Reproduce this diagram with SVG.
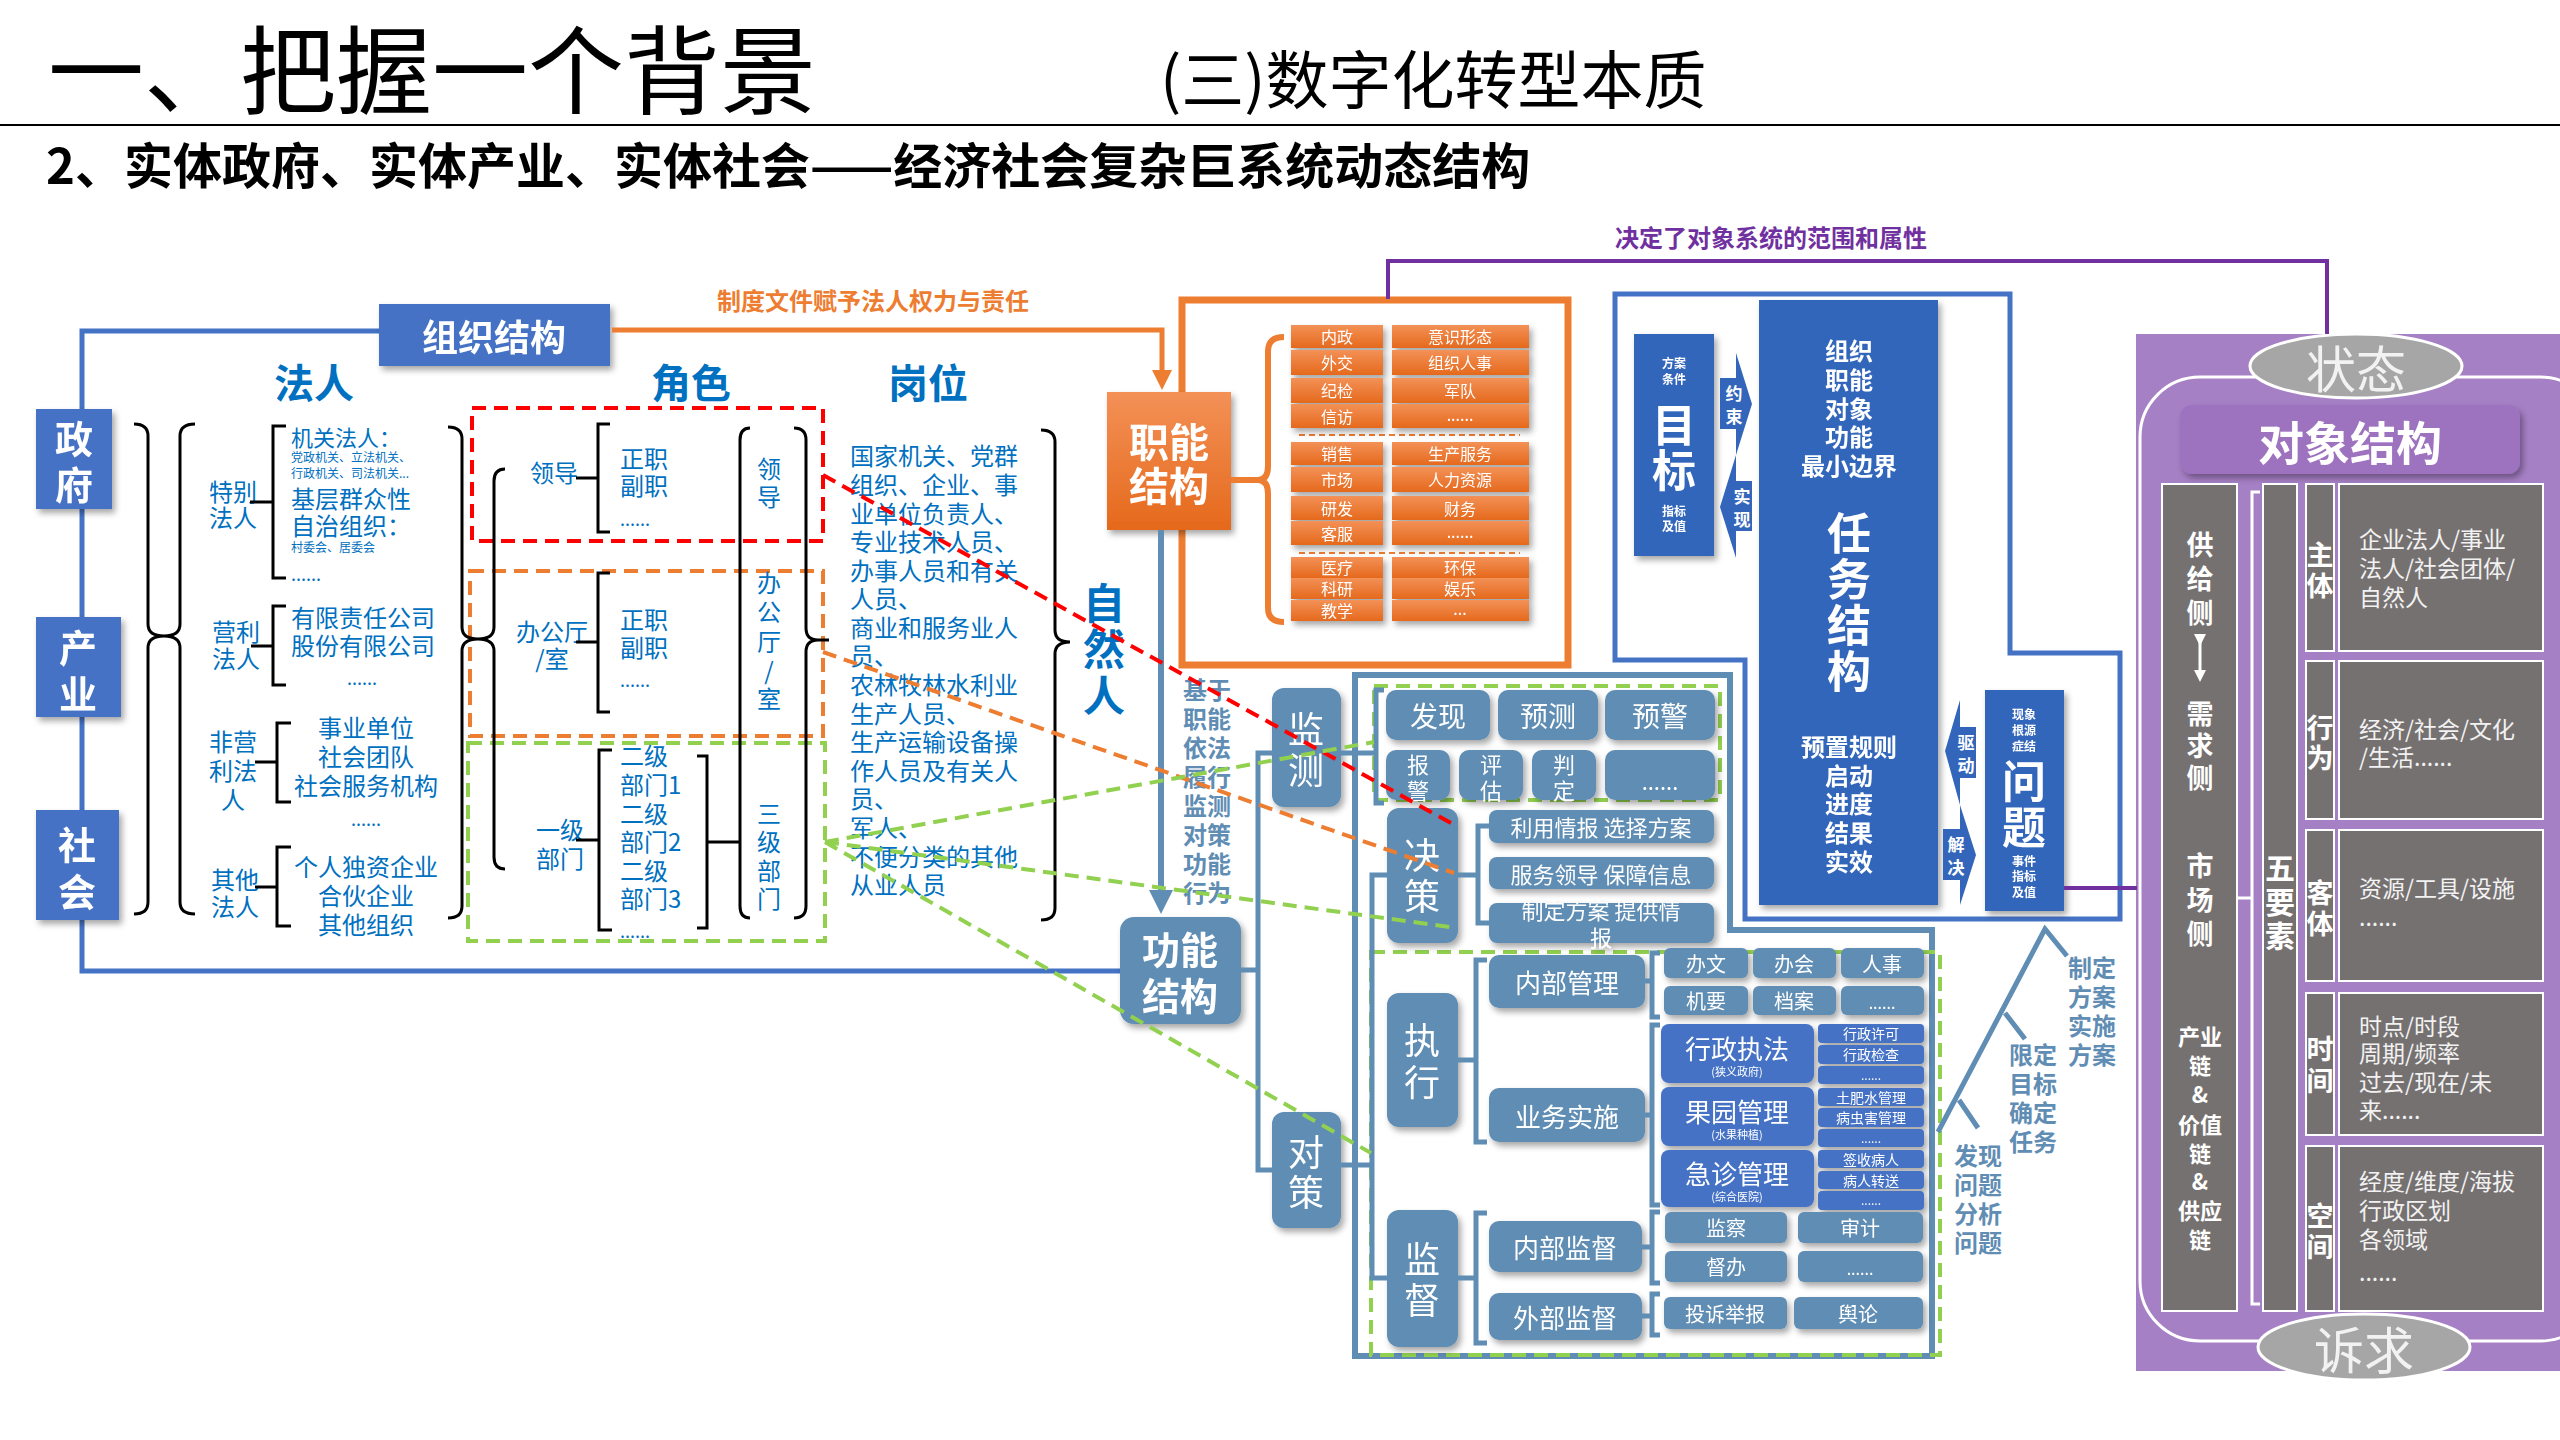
<svg xmlns="http://www.w3.org/2000/svg" width="2560" height="1440" viewBox="0 0 2560 1440">
<defs>
<style>
text{font-family:"Noto Sans CJK SC","Noto Sans",sans-serif}
.c{text-anchor:middle;dominant-baseline:central}
.l{dominant-baseline:central}
.b{font-weight:bold}
.bl{fill:#0070c0}
.w{fill:#fff}
.sbt{fill:#5f8db4}
.sbf{fill:#5f8db4}
.bx{fill:#4472c4}
.tk{fill:#3366bb}
.og{fill:url(#og)}
.gy{fill:#767171;stroke:#fff;stroke-width:2}
.br{fill:none;stroke:#000;stroke-width:3}
.sl{fill:none;stroke:#5f8db4;stroke-width:5}
.f24{font-size:24px}
.f22{font-size:22px}
.f16{font-size:16px}
.f12{font-size:12px}
.dr{fill:none;stroke:#ff0000;stroke-width:4;stroke-dasharray:14 8}
.do{fill:none;stroke:#ed7d31;stroke-width:4;stroke-dasharray:14 8}
.dg{fill:none;stroke:#92d050;stroke-width:4;stroke-dasharray:14 8}
</style>
<linearGradient id="og" x1="0" y1="0" x2="0" y2="1"><stop offset="0" stop-color="#f39157"/><stop offset="1" stop-color="#e5691c"/></linearGradient>
<filter id="sh" x="-20%" y="-20%" width="140%" height="140%"><feDropShadow dx="3" dy="4" stdDeviation="3" flood-color="#000" flood-opacity="0.35"/></filter>
<marker id="ao" markerWidth="4" markerHeight="4" refX="2" refY="2" orient="auto" markerUnits="strokeWidth"><path d="M0,0 L4,2 L0,4 Z" fill="#ed7d31"/></marker>
<marker id="as" markerWidth="4" markerHeight="4" refX="2" refY="2" orient="auto" markerUnits="strokeWidth"><path d="M0,0 L4,2 L0,4 Z" fill="#5f8db4"/></marker>
<marker id="aw" markerWidth="4" markerHeight="4" refX="2" refY="2" orient="auto" markerUnits="strokeWidth"><path d="M0,0 L4,2 L0,4 Z" fill="#fff"/></marker>
</defs>
<rect width="2560" height="1440" fill="#fff"/>

<!-- titles -->
<g id="titles">
<text x="48" y="106" font-size="96">一、把握一个背景</text>
<text x="1160" y="103" font-size="63">(三)数字化转型本质</text>
<line x1="0" y1="125" x2="2560" y2="125" stroke="#000" stroke-width="2"/>
<text x="46" y="184" font-size="49" class="b">2、实体政府、实体产业、实体社会——经济社会复杂巨系统动态结构</text>
<text x="1771" y="236" class="c b f24" fill="#7030a0">决定了对象系统的范围和属性</text>
<text x="873" y="299" class="c b f24" fill="#ed7d31">制度文件赋予法人权力与责任</text>
</g>

<!-- background frames -->
<g id="frames">
<path d="M379,331 H82 V971 H1120" fill="none" stroke="#4472c4" stroke-width="5"/>
<rect x="1182" y="300" width="386" height="365" fill="#fff" stroke="#ed7d31" stroke-width="7"/>
<path d="M1615,294 H2010 V653 H2120 V919 H1745 V660 H1615 Z" fill="none" stroke="#4472c4" stroke-width="5"/>
<path d="M1355,675 H1730 V930 H1932 V1356 H1355 Z" fill="none" stroke="#5f8db4" stroke-width="6"/>
<rect x="2136" y="334" width="430" height="1037" fill="#a680c5"/>
<rect x="2140" y="377" width="460" height="964" rx="60" fill="none" stroke="#fff" stroke-width="3"/>
<line x1="1299" y1="435" x2="1520" y2="435" stroke="#ed7d31" stroke-width="2" stroke-dasharray="6 4"/>
<line x1="1299" y1="553" x2="1520" y2="553" stroke="#ed7d31" stroke-width="2" stroke-dasharray="6 4"/>
<rect x="472" y="408" width="351" height="133" class="dr"/>
<rect x="470" y="571" width="353" height="165" class="do"/>
<rect x="468" y="743" width="357" height="198" class="dg"/>
<rect x="1374" y="686" width="346" height="114" class="dg"/>
<rect x="1371" y="952" width="569" height="403" class="dg"/>
</g>

<!-- left: 政府 产业 社会 -->
<g id="n-zhengfu" filter="url(#sh)"><rect x="36" y="409" width="76" height="100" class="bx"/><text x="74" y="436" class="c b w" font-size="38">政</text><text x="74" y="482" class="c b w" font-size="38">府</text></g>
<g id="n-chanye" filter="url(#sh)"><rect x="36" y="617" width="85" height="100" class="bx"/><text x="78" y="645" class="c b w" font-size="38">产</text><text x="78" y="691" class="c b w" font-size="38">业</text></g>
<g id="n-shehui" filter="url(#sh)"><rect x="36" y="810" width="83" height="110" class="bx"/><text x="77" y="842" class="c b w" font-size="38">社</text><text x="77" y="889" class="c b w" font-size="38">会</text></g>
<g id="n-zuzhi" filter="url(#sh)"><rect x="379" y="304" width="231" height="62" class="bx"/><text x="494" y="335" class="c b w" font-size="36">组织结构</text></g>

<!-- 法人 column -->
<g id="n-faren">
<text x="314" y="381" class="c b bl" font-size="40">法人</text>
<text x="233" y="490" class="c bl f24">特别</text><text x="233" y="516" class="c bl f24">法人</text>
<text x="291" y="436" class="l bl f22">机关法人：</text>
<text x="291" y="456" class="l bl f12">党政机关、立法机关、</text>
<text x="291" y="472" class="l bl f12">行政机关、司法机关...</text>
<text x="291" y="497" class="l bl f24">基层群众性</text>
<text x="291" y="524" class="l bl f24">自治组织：</text>
<text x="291" y="546" class="l bl f12">村委会、居委会</text>
<text x="291" y="573" class="l bl" font-size="18">......</text>
<text x="236" y="630" class="c bl f24">营利</text><text x="236" y="657" class="c bl f24">法人</text>
<text x="291" y="616" class="l bl f24">有限责任公司</text>
<text x="291" y="644" class="l bl f24">股份有限公司</text>
<text x="362" y="677" class="c bl" font-size="18">......</text>
<text x="233" y="740" class="c bl f24">非营</text><text x="233" y="769" class="c bl f24">利法</text><text x="233" y="798" class="c bl f24">人</text>
<text x="366" y="726" class="c bl f24">事业单位</text>
<text x="366" y="755" class="c bl f24">社会团队</text>
<text x="366" y="784" class="c bl f24">社会服务机构</text>
<text x="366" y="818" class="c bl" font-size="18">......</text>
<text x="235" y="878" class="c bl f24">其他</text><text x="235" y="905" class="c bl f24">法人</text>
<text x="366" y="865" class="c bl f24">个人独资企业</text>
<text x="366" y="894" class="c bl f24">合伙企业</text>
<text x="366" y="923" class="c bl f24">其他组织</text>
</g>

<!-- 角色 column -->
<g id="n-jiaose">
<text x="691" y="381" class="c b bl" font-size="40">角色</text>
<text x="554" y="471" class="c bl f24">领导</text>
<text x="620" y="457" class="l bl f24">正职</text><text x="620" y="484" class="l bl f24">副职</text><text x="620" y="518" class="l bl" font-size="18">......</text>
<text x="552" y="630" class="c bl f24">办公厅</text><text x="552" y="657" class="c bl f24">/室</text>
<text x="620" y="618" class="l bl f24">正职</text><text x="620" y="646" class="l bl f24">副职</text><text x="620" y="679" class="l bl" font-size="18">......</text>
<text x="560" y="828" class="c bl f24">一级</text><text x="560" y="857" class="c bl f24">部门</text>
<text x="620" y="754" class="l bl f24">二级</text><text x="620" y="783" class="l bl f24">部门1</text><text x="620" y="812" class="l bl f24">二级</text><text x="620" y="840" class="l bl f24">部门2</text><text x="620" y="869" class="l bl f24">二级</text><text x="620" y="897" class="l bl f24">部门3</text><text x="620" y="930" class="l bl" font-size="18">......</text>
<text x="769" y="467" class="c bl f24">领</text><text x="769" y="495" class="c bl f24">导</text>
<text x="769" y="581" class="c bl f24">办</text><text x="769" y="610" class="c bl f24">公</text><text x="769" y="640" class="c bl f24">厅</text><text x="769" y="669" class="c bl f24">/</text><text x="769" y="697" class="c bl f24">室</text>
<text x="769" y="812" class="c bl f24">三</text><text x="769" y="840" class="c bl f24">级</text><text x="769" y="869" class="c bl f24">部</text><text x="769" y="897" class="c bl f24">门</text>
</g>

<!-- 岗位 column -->
<g id="n-gangwei">
<text x="928" y="381" class="c b bl" font-size="40">岗位</text>
<text x="850" y="454" class="l bl f24">国家机关、党群</text>
<text x="850" y="483" class="l bl f24" textLength="168">组织、企业、事</text>
<text x="850" y="512" class="l bl f24">业单位负责人、</text>
<text x="850" y="540" class="l bl f24">专业技术人员、</text>
<text x="850" y="569" class="l bl f24">办事人员和有关</text>
<text x="850" y="597" class="l bl f24">人员、</text>
<text x="850" y="626" class="l bl f24">商业和服务业人</text>
<text x="850" y="654" class="l bl f24">员、</text>
<text x="850" y="683" class="l bl f24">农林牧林水利业</text>
<text x="850" y="712" class="l bl f24">生产人员、</text>
<text x="850" y="740" class="l bl f24">生产运输设备操</text>
<text x="850" y="769" class="l bl f24">作人员及有关人</text>
<text x="850" y="797" class="l bl f24">员、</text>
<text x="850" y="826" class="l bl f24">军人、</text>
<text x="850" y="855" class="l bl f24">不便分类的其他</text>
<text x="850" y="883" class="l bl f24">从业人员</text>
</g>
<g id="n-ziranren">
<text x="1104" y="600" class="c b bl" font-size="42">自</text><text x="1104" y="646" class="c b bl" font-size="42">然</text><text x="1104" y="692" class="c b bl" font-size="42">人</text>
</g>
<g id="n-jiyu">
<text x="1207" y="688" class="c b sbt f24">基于</text><text x="1207" y="717" class="c b sbt f24">职能</text><text x="1207" y="746" class="c b sbt f24">依法</text><text x="1207" y="775" class="c b sbt f24">履行</text><text x="1207" y="804" class="c b sbt f24">监测</text><text x="1207" y="833" class="c b sbt f24">对策</text><text x="1207" y="862" class="c b sbt f24">功能</text><text x="1207" y="891" class="c b sbt f24">行为</text>
</g>

<!-- 职能结构 -->
<g id="n-zhineng" filter="url(#sh)"><rect x="1107" y="392" width="124" height="138" class="og"/><text x="1169" y="440" class="c b w" font-size="40">职能</text><text x="1169" y="484" class="c b w" font-size="40">结构</text></g>
<g id="n-zhineng-cells" filter="url(#sh)">
<rect x="1291" y="325" width="92" height="23" class="og"/><text x="1337" y="336" class="c w f16">内政</text>
<rect x="1291" y="350" width="92" height="25" class="og"/><text x="1337" y="362" class="c w f16">外交</text>
<rect x="1291" y="378" width="92" height="25" class="og"/><text x="1337" y="390" class="c w f16">纪检</text>
<rect x="1291" y="404" width="92" height="24" class="og"/><text x="1337" y="416" class="c w f16">信访</text>
<rect x="1392" y="325" width="137" height="23" class="og"/><text x="1460" y="336" class="c w f16">意识形态</text>
<rect x="1392" y="350" width="137" height="25" class="og"/><text x="1460" y="362" class="c w f16">组织人事</text>
<rect x="1392" y="378" width="137" height="25" class="og"/><text x="1460" y="390" class="c w f16">军队</text>
<rect x="1392" y="404" width="137" height="24" class="og"/><text x="1460" y="414" class="c w f16">......</text>
<rect x="1291" y="442" width="92" height="23" class="og"/><text x="1337" y="453" class="c w f16">销售</text>
<rect x="1291" y="467" width="92" height="25" class="og"/><text x="1337" y="479" class="c w f16">市场</text>
<rect x="1291" y="496" width="92" height="24" class="og"/><text x="1337" y="508" class="c w f16">研发</text>
<rect x="1291" y="521" width="92" height="24" class="og"/><text x="1337" y="533" class="c w f16">客服</text>
<rect x="1392" y="442" width="137" height="23" class="og"/><text x="1460" y="453" class="c w f16">生产服务</text>
<rect x="1392" y="467" width="137" height="25" class="og"/><text x="1460" y="479" class="c w f16">人力资源</text>
<rect x="1392" y="496" width="137" height="24" class="og"/><text x="1460" y="508" class="c w f16">财务</text>
<rect x="1392" y="521" width="137" height="24" class="og"/><text x="1460" y="531" class="c w f16">......</text>
<rect x="1291" y="557" width="92" height="21" class="og"/><text x="1337" y="567" class="c w f16">医疗</text>
<rect x="1291" y="578" width="92" height="21" class="og"/><text x="1337" y="588" class="c w f16">科研</text>
<rect x="1291" y="600" width="92" height="21" class="og"/><text x="1337" y="610" class="c w f16">教学</text>
<rect x="1392" y="557" width="137" height="21" class="og"/><text x="1460" y="567" class="c w f16">环保</text>
<rect x="1392" y="578" width="137" height="21" class="og"/><text x="1460" y="588" class="c w f16">娱乐</text>
<rect x="1392" y="600" width="137" height="21" class="og"/><text x="1460" y="608" class="c w f16">...</text>
</g>

<!-- 功能结构 and tree -->
<g id="n-gongneng" filter="url(#sh)"><rect x="1120" y="917" width="121" height="107" rx="14" class="sbf"/><text x="1180" y="947" class="c b w" font-size="38">功能</text><text x="1180" y="993" class="c b w" font-size="38">结构</text></g>
<g id="n-jiance" filter="url(#sh)"><rect x="1272" y="688" width="69" height="119" rx="12" class="sbf"/><text x="1306" y="727" class="c w" font-size="36">监</text><text x="1306" y="768" class="c w" font-size="36">测</text></g>
<g id="n-duice" filter="url(#sh)"><rect x="1272" y="1112" width="69" height="116" rx="12" class="sbf"/><text x="1306" y="1150" class="c w" font-size="36">对</text><text x="1306" y="1190" class="c w" font-size="36">策</text></g>
<g id="n-jiance-cells" filter="url(#sh)">
<rect x="1386" y="690" width="104" height="50" rx="10" class="sbf"/><text x="1438" y="715" class="c w" font-size="28">发现</text>
<rect x="1498" y="690" width="100" height="50" rx="10" class="sbf"/><text x="1548" y="715" class="c w" font-size="28">预测</text>
<rect x="1605" y="690" width="110" height="50" rx="10" class="sbf"/><text x="1660" y="715" class="c w" font-size="28">预警</text>
<rect x="1386" y="750" width="64" height="50" rx="10" class="sbf"/><text x="1418" y="763" class="c w f22">报</text><text x="1418" y="789" class="c w f22">警</text>
<rect x="1459" y="750" width="64" height="50" rx="10" class="sbf"/><text x="1491" y="763" class="c w f22">评</text><text x="1491" y="789" class="c w f22">估</text>
<rect x="1532" y="750" width="64" height="50" rx="10" class="sbf"/><text x="1564" y="763" class="c w f22">判</text><text x="1564" y="789" class="c w f22">定</text>
<rect x="1605" y="750" width="110" height="50" rx="10" class="sbf"/><text x="1660" y="780" class="c w f22">......</text>
</g>
<g id="n-juece" filter="url(#sh)">
<rect x="1387" y="808" width="71" height="135" rx="12" class="sbf"/><text x="1422" y="853" class="c w" font-size="36">决</text><text x="1422" y="894" class="c w" font-size="36">策</text>
<rect x="1489" y="810" width="225" height="33" rx="8" class="sbf"/><text x="1601" y="826" class="c w f22">利用情报 选择方案</text>
<rect x="1489" y="857" width="225" height="32" rx="8" class="sbf"/><text x="1601" y="873" class="c w f22">服务领导 保障信息</text>
<rect x="1489" y="903" width="225" height="40" rx="8" class="sbf"/><text x="1601" y="909" class="c w f22">制定方案 提供情</text><text x="1601" y="936" class="c w f22">报</text>
</g>
<g id="n-zhixing" filter="url(#sh)">
<rect x="1387" y="993" width="71" height="134" rx="12" class="sbf"/><text x="1422" y="1038" class="c w" font-size="36">执</text><text x="1422" y="1080" class="c w" font-size="36">行</text>
<rect x="1489" y="955" width="156" height="53" rx="10" class="sbf"/><text x="1567" y="981" class="c w" font-size="26">内部管理</text>
<rect x="1489" y="1088" width="156" height="54" rx="10" class="sbf"/><text x="1567" y="1115" class="c w" font-size="26">业务实施</text>
<rect x="1664" y="948" width="84" height="30" rx="6" class="sbf"/><text x="1706" y="963" class="c w" font-size="20">办文</text>
<rect x="1753" y="948" width="83" height="30" rx="6" class="sbf"/><text x="1794" y="963" class="c w" font-size="20">办会</text>
<rect x="1841" y="948" width="83" height="30" rx="6" class="sbf"/><text x="1882" y="963" class="c w" font-size="20">人事</text>
<rect x="1664" y="986" width="84" height="29" rx="6" class="sbf"/><text x="1706" y="1000" class="c w" font-size="20">机要</text>
<rect x="1753" y="986" width="83" height="29" rx="6" class="sbf"/><text x="1794" y="1000" class="c w" font-size="20">档案</text>
<rect x="1841" y="986" width="83" height="29" rx="6" class="sbf"/><text x="1882" y="1002" class="c w f16">......</text>
<rect x="1661" y="1024" width="153" height="59" rx="8" class="bx"/><text x="1737" y="1047" class="c w" font-size="26">行政执法</text><text x="1737" y="1071" class="c w" font-size="11">(狭义政府)</text>
<rect x="1661" y="1087" width="153" height="59" rx="8" class="bx"/><text x="1737" y="1110" class="c w" font-size="26">果园管理</text><text x="1737" y="1134" class="c w" font-size="11">(水果种植)</text>
<rect x="1661" y="1150" width="153" height="57" rx="8" class="bx"/><text x="1737" y="1172" class="c w" font-size="26">急诊管理</text><text x="1737" y="1196" class="c w" font-size="11">(综合医院)</text>
<rect x="1818" y="1024" width="106" height="19" rx="4" class="bx"/><text x="1871" y="1033" class="c w" font-size="14">行政许可</text>
<rect x="1818" y="1045" width="106" height="19" rx="4" class="bx"/><text x="1871" y="1054" class="c w" font-size="14">行政检查</text>
<rect x="1818" y="1066" width="106" height="18" rx="4" class="bx"/><text x="1871" y="1074" class="c w" font-size="12">......</text>
<rect x="1818" y="1088" width="106" height="18" rx="4" class="bx"/><text x="1871" y="1097" class="c w" font-size="14">土肥水管理</text>
<rect x="1818" y="1108" width="106" height="19" rx="4" class="bx"/><text x="1871" y="1117" class="c w" font-size="14">病虫害管理</text>
<rect x="1818" y="1129" width="106" height="18" rx="4" class="bx"/><text x="1871" y="1137" class="c w" font-size="12">......</text>
<rect x="1818" y="1150" width="106" height="18" rx="4" class="bx"/><text x="1871" y="1159" class="c w" font-size="14">签收病人</text>
<rect x="1818" y="1171" width="106" height="18" rx="4" class="bx"/><text x="1871" y="1180" class="c w" font-size="14">病人转送</text>
<rect x="1818" y="1191" width="106" height="19" rx="4" class="bx"/><text x="1871" y="1199" class="c w" font-size="12">......</text>
</g>
<g id="n-jiandu" filter="url(#sh)">
<rect x="1387" y="1210" width="71" height="137" rx="12" class="sbf"/><text x="1422" y="1257" class="c w" font-size="36">监</text><text x="1422" y="1298" class="c w" font-size="36">督</text>
<rect x="1489" y="1221" width="153" height="51" rx="10" class="sbf"/><text x="1565" y="1246" class="c w" font-size="26">内部监督</text>
<rect x="1489" y="1293" width="153" height="47" rx="10" class="sbf"/><text x="1565" y="1316" class="c w" font-size="26">外部监督</text>
<rect x="1665" y="1212" width="122" height="31" rx="6" class="sbf"/><text x="1726" y="1227" class="c w" font-size="20">监察</text>
<rect x="1798" y="1212" width="125" height="31" rx="6" class="sbf"/><text x="1860" y="1227" class="c w" font-size="20">审计</text>
<rect x="1665" y="1251" width="122" height="31" rx="6" class="sbf"/><text x="1726" y="1266" class="c w" font-size="20">督办</text>
<rect x="1798" y="1251" width="125" height="31" rx="6" class="sbf"/><text x="1860" y="1268" class="c w f16">......</text>
<rect x="1664" y="1297" width="123" height="32" rx="6" class="sbf"/><text x="1725" y="1313" class="c w" font-size="20">投诉举报</text>
<rect x="1794" y="1297" width="129" height="32" rx="6" class="sbf"/><text x="1858" y="1313" class="c w" font-size="20">舆论</text>
</g>

<!-- 任务 area -->
<g id="n-mubiao" filter="url(#sh)"><rect x="1634" y="334" width="80" height="222" class="tk"/>
<text x="1674" y="362" class="c b w" font-size="12">方案</text><text x="1674" y="378" class="c b w" font-size="12">条件</text>
<text x="1674" y="423" class="c b w" font-size="44">目</text><text x="1674" y="468" class="c b w" font-size="44">标</text>
<text x="1674" y="510" class="c b w" font-size="12">指标</text><text x="1674" y="525" class="c b w" font-size="12">及值</text></g>
<g id="n-yueshu"><path d="M1720,378 H1736 V353 L1752,404 L1736,455 V429 H1720 Z" class="tk"/><text x="1734" y="392" class="c b w" font-size="17">约</text><text x="1734" y="415" class="c b w" font-size="17">束</text></g>
<g id="n-shixian"><path d="M1752,481 H1736 V455 L1720,507 L1736,558 V531 H1752 Z" class="tk"/><text x="1742" y="495" class="c b w" font-size="17">实</text><text x="1742" y="518" class="c b w" font-size="17">现</text></g>
<g id="n-renwu" filter="url(#sh)"><rect x="1759" y="300" width="179" height="605" class="tk"/>
<text x="1849" y="349" class="c b w f24">组织</text><text x="1849" y="378" class="c b w f24">职能</text><text x="1849" y="407" class="c b w f24">对象</text><text x="1849" y="435" class="c b w f24">功能</text><text x="1849" y="464" class="c b w f24">最小边界</text>
<text x="1849" y="531" class="c b w" font-size="44">任</text><text x="1849" y="577" class="c b w" font-size="44">务</text><text x="1849" y="623" class="c b w" font-size="44">结</text><text x="1849" y="669" class="c b w" font-size="44">构</text>
<text x="1849" y="745" class="c b w f24">预置规则</text><text x="1849" y="774" class="c b w f24">启动</text><text x="1849" y="802" class="c b w f24">进度</text><text x="1849" y="831" class="c b w f24">结果</text><text x="1849" y="860" class="c b w f24">实效</text></g>
<g id="n-qudong"><path d="M1976,727 H1960 V700 L1945,751 L1960,805 V778 H1976 Z" class="tk"/><text x="1966" y="741" class="c b w" font-size="17">驱</text><text x="1966" y="764" class="c b w" font-size="17">动</text></g>
<g id="n-jiejue"><path d="M1943,829 H1960 V805 L1976,855 L1960,905 V880 H1943 Z" class="tk"/><text x="1956" y="843" class="c b w" font-size="17">解</text><text x="1956" y="866" class="c b w" font-size="17">决</text></g>
<g id="n-wenti" filter="url(#sh)"><rect x="1985" y="690" width="79" height="221" class="tk"/>
<text x="2024" y="713" class="c b w" font-size="12">现象</text><text x="2024" y="729" class="c b w" font-size="12">根源</text><text x="2024" y="745" class="c b w" font-size="12">症结</text>
<text x="2024" y="779" class="c b w" font-size="44">问</text><text x="2024" y="825" class="c b w" font-size="44">题</text>
<text x="2024" y="860" class="c b w" font-size="12">事件</text><text x="2024" y="875" class="c b w" font-size="12">指标</text><text x="2024" y="891" class="c b w" font-size="12">及值</text></g>
<g id="n-steps">
<text x="2092" y="966" class="c b sbt f24">制定</text><text x="2092" y="995" class="c b sbt f24">方案</text><text x="2092" y="1024" class="c b sbt f24">实施</text><text x="2092" y="1053" class="c b sbt f24">方案</text>
<text x="2033" y="1053" class="c b sbt f24">限定</text><text x="2033" y="1082" class="c b sbt f24">目标</text><text x="2033" y="1111" class="c b sbt f24">确定</text><text x="2033" y="1140" class="c b sbt f24">任务</text>
<text x="1978" y="1154" class="c b sbt f24">发现</text><text x="1978" y="1183" class="c b sbt f24">问题</text><text x="1978" y="1212" class="c b sbt f24">分析</text><text x="1978" y="1241" class="c b sbt f24">问题</text>
</g>

<!-- 对象结构 -->
<g id="n-zhuangtai"><ellipse cx="2356" cy="366" rx="106" ry="32" fill="#a6a6a6" stroke="#fff" stroke-width="3"/><text x="2356" y="366" class="c" font-size="50" fill="#f2f2f2">状态</text></g>
<g id="n-suqiu"><ellipse cx="2364" cy="1347" rx="106" ry="33" fill="#a6a6a6" stroke="#fff" stroke-width="3"/><text x="2364" y="1347" class="c" font-size="50" fill="#f2f2f2">诉求</text></g>
<g id="n-duixiang" filter="url(#sh)"><rect x="2180" y="405" width="340" height="69" rx="12" fill="#9d72bf"/><text x="2350" y="440" class="c b w" font-size="46">对象结构</text></g>
<g id="n-side">
<rect x="2162" y="484" width="75" height="827" class="gy"/>
<text x="2200" y="543" class="c b w" font-size="27">供</text><text x="2200" y="577" class="c b w" font-size="27">给</text><text x="2200" y="611" class="c b w" font-size="27">侧</text>
<line x1="2200" y1="640" x2="2200" y2="676" stroke="#fff" stroke-width="3" marker-start="url(#aw)" marker-end="url(#aw)"/>
<text x="2200" y="712" class="c b w" font-size="27">需</text><text x="2200" y="744" class="c b w" font-size="27">求</text><text x="2200" y="776" class="c b w" font-size="27">侧</text>
<text x="2200" y="864" class="c b w" font-size="27">市</text><text x="2200" y="898" class="c b w" font-size="27">场</text><text x="2200" y="932" class="c b w" font-size="27">侧</text>
<text x="2200" y="1035" class="c b w f22">产业</text><text x="2200" y="1064" class="c b w f22">链</text><text x="2200" y="1093" class="c b w f22">&amp;</text><text x="2200" y="1123" class="c b w f22">价值</text><text x="2200" y="1152" class="c b w f22">链</text><text x="2200" y="1180" class="c b w f22">&amp;</text><text x="2200" y="1209" class="c b w f22">供应</text><text x="2200" y="1238" class="c b w f22">链</text>
</g>
<g id="n-wuyaosu"><rect x="2263" y="484" width="34" height="827" class="gy"/><text x="2280" y="866" class="c b w" font-size="30">五</text><text x="2280" y="900" class="c b w" font-size="30">要</text><text x="2280" y="934" class="c b w" font-size="30">素</text></g>
<g id="n-elements">
<rect x="2306" y="484" width="28" height="167" class="gy"/><text x="2320" y="553" class="c b w" font-size="27">主</text><text x="2320" y="584" class="c b w" font-size="27">体</text>
<rect x="2306" y="661" width="28" height="158" class="gy"/><text x="2320" y="726" class="c b w" font-size="27">行</text><text x="2320" y="756" class="c b w" font-size="27">为</text>
<rect x="2306" y="830" width="28" height="151" class="gy"/><text x="2320" y="891" class="c b w" font-size="27">客</text><text x="2320" y="922" class="c b w" font-size="27">体</text>
<rect x="2306" y="993" width="28" height="142" class="gy"/><text x="2320" y="1047" class="c b w" font-size="27">时</text><text x="2320" y="1079" class="c b w" font-size="27">间</text>
<rect x="2306" y="1146" width="28" height="165" class="gy"/><text x="2320" y="1214" class="c b w" font-size="27">空</text><text x="2320" y="1245" class="c b w" font-size="27">间</text>
<rect x="2339" y="484" width="204" height="167" class="gy"/>
<text x="2359" y="538" class="l" font-size="23" fill="#f2f2f2">企业法人/事业</text><text x="2359" y="567" class="l" font-size="23" fill="#f2f2f2">法人/社会团体/</text><text x="2359" y="596" class="l" font-size="23" fill="#f2f2f2">自然人</text>
<rect x="2339" y="661" width="204" height="158" class="gy"/>
<text x="2359" y="728" class="l" font-size="23" fill="#f2f2f2">经济/社会/文化</text><text x="2359" y="756" class="l" font-size="23" fill="#f2f2f2">/生活......</text>
<rect x="2339" y="830" width="204" height="151" class="gy"/>
<text x="2359" y="887" class="l" font-size="23" fill="#f2f2f2">资源/工具/设施</text><text x="2359" y="916" class="l" font-size="23" fill="#f2f2f2">......</text>
<rect x="2339" y="993" width="204" height="142" class="gy"/>
<text x="2359" y="1025" class="l" font-size="23" fill="#f2f2f2">时点/时段</text><text x="2359" y="1052" class="l" font-size="23" fill="#f2f2f2">周期/频率</text><text x="2359" y="1081" class="l" font-size="23" fill="#f2f2f2">过去/现在/未</text><text x="2359" y="1109" class="l" font-size="23" fill="#f2f2f2">来......</text>
<rect x="2339" y="1146" width="204" height="165" class="gy"/>
<text x="2359" y="1180" class="l" font-size="23" fill="#f2f2f2">经度/维度/海拔</text><text x="2359" y="1209" class="l" font-size="23" fill="#f2f2f2">行政区划</text><text x="2359" y="1238" class="l" font-size="23" fill="#f2f2f2">各领域</text><text x="2359" y="1271" class="l" font-size="23" fill="#f2f2f2">......</text>
</g>

<!-- connectors -->
<g id="connectors">
<path class="br" d="M134,424 Q148,424 148,436 V624 Q148,636 164,636 M164,636 Q148,636 148,648 V902 Q148,914 134,914"/>
<path class="br" d="M195,424 Q180,424 180,436 V624 Q180,636 164,636 M164,636 Q180,636 180,648 V902 Q180,914 195,914"/>
<path class="br" d="M250,502 H273 M286,426 H273 V578 H286"/>
<path class="br" d="M251,646 H273 M286,606 H273 V685 H286"/>
<path class="br" d="M255,762 H277 M291,723 H277 V802 H291"/>
<path class="br" d="M255,887 H277 M291,847 H277 V926 H291"/>
<path class="br" d="M448,427 Q462,427 462,439 V627 Q462,639 478,639 M478,639 Q462,639 462,651 V906 Q462,918 448,918"/>
<path class="br" d="M505,469 Q494,469 494,481 V627 Q494,639 478,639 M478,639 Q494,639 494,651 V857 Q494,869 505,869"/>
<path class="br" d="M576,478 H598 M610,424 H598 V532 H610"/>
<path class="br" d="M576,642 H598 M610,573 H598 V712 H610"/>
<path class="br" d="M576,840 H599 M612,750 H599 V930 H612"/>
<path class="br" d="M697,756 H707 V928 H697 M707,842 H740"/>
<path class="br" d="M750,428 Q740,428 740,440 V906 Q740,918 750,918"/>
<path class="br" d="M794,428 Q806,428 806,440 V628 Q806,640 818,640 H829 M818,640 Q806,640 806,652 V906 Q806,918 794,918"/>
<path class="br" d="M1041,430 Q1055,430 1055,442 V630 Q1055,642 1070,642 M1070,642 Q1055,642 1055,654 V908 Q1055,920 1041,920"/>
<path d="M612,330 H1162 V380" fill="none" stroke="#ed7d31" stroke-width="5" marker-end="url(#ao)"/>
<path d="M1231,480 H1262 M1284,337 Q1268,337 1268,351 V466 Q1268,480 1258,480 Q1268,480 1268,494 V608 Q1268,622 1284,622" fill="none" stroke="#ed7d31" stroke-width="6"/>
<path d="M1161,530 V902" fill="none" stroke="#5f8db4" stroke-width="6" marker-end="url(#as)"/>
<path class="sl" d="M1241,970 H1258 M1272,753 H1258 V1170 H1272"/>
<path class="sl" d="M1341,753 H1376 M1384,690 H1376 V803 H1384"/>
<path class="sl" d="M1341,1165 H1372 M1387,875 H1372 V1278 H1387"/>
<path class="sl" d="M1458,875 H1478 M1489,826 H1478 V923 H1489"/>
<path class="sl" d="M1458,1060 H1476 M1487,960 H1476 V1142 H1487"/>
<path class="sl" d="M1458,1278 H1476 M1487,1213 H1476 V1343 H1487"/>
<path class="sl" d="M1645,981 H1652 M1660,953 H1652 V1017 H1660"/>
<path class="sl" d="M1645,1115 H1652 M1660,1025 H1652 V1205 H1660"/>
<path class="sl" d="M1642,1247 H1652 M1660,1212 H1652 V1283 H1660"/>
<path class="sl" d="M1642,1316 H1652 M1660,1294 H1652 V1335 H1660"/>
<path d="M1938,1132 L2045,929 L2067,956 M2005,1013 L2025,1039 M1959,1100 L1978,1128" fill="none" stroke="#5f8db4" stroke-width="5"/>
<path d="M1388,299 V261 H2327 V334" fill="none" stroke="#7030a0" stroke-width="4"/>
<path d="M2064,888 H2137" fill="none" stroke="#7030a0" stroke-width="4"/>
<path d="M2237,898 H2252 M2260,492 H2252 V1304 H2260" fill="none" stroke="#fff" stroke-width="3"/>
</g>

<!-- dashed cross links -->
<g id="links">
<path class="dr" d="M823,475 L1458,827"/>
<path class="do" d="M823,652 L1454,873"/>
<path class="dg" d="M825,842 L1374,742 M825,842 L1450,927 M825,842 L1371,1153"/>
</g>
</svg>
